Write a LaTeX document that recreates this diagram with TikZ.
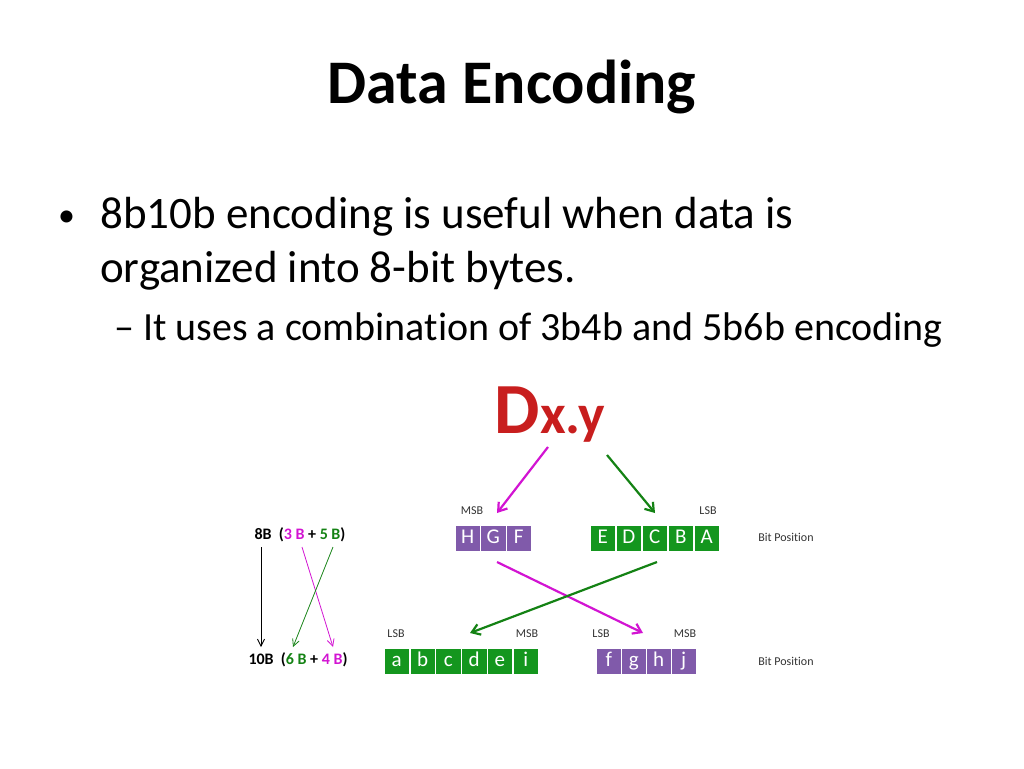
\documentclass[tikz,border=0pt]{standalone}
\usepackage{fontspec}
\setmainfont[RawFeature={-liga}]{Carlito}
\usetikzlibrary{arrows.meta}
\definecolor{pur}{RGB}{128,90,170}
\definecolor{grn}{RGB}{20,150,30}
\definecolor{mag}{RGB}{210,20,210}
\definecolor{dgr}{RGB}{20,130,20}
\definecolor{dred}{RGB}{200,30,30}
\tikzset{
 cell/.style={minimum width=25.5pt,minimum height=26pt,inner sep=0pt,text=white,font=\fontsize{21}{21}\selectfont,text height=14pt,text depth=3pt,draw=white,line width=0.6pt},
 pcell/.style={cell,fill=pur},
 gcell/.style={cell,fill=grn},
 small/.style={font=\fontsize{12}{12}\selectfont,text=black!80},
 marr/.style={mag,line width=2.2pt,-{Straight Barb[length=8pt,width=11pt]}},
 garr/.style={dgr,line width=2.2pt,-{Straight Barb[length=8pt,width=11pt]}},
 thin/.style={line width=0.8pt,-{Straight Barb[length=7pt,width=7pt]}}
}
\begin{document}
\begin{tikzpicture}[x=1pt,y=-1pt]
\useasboundingbox (0,0) rectangle (1024,768);
\node (title) at (512,87) {\fontsize{62}{62}\selectfont\bfseries Data Encoding};
\node[anchor=base west,inner sep=0pt] (b1) at (58,226) {\fontsize{34}{34}\selectfont •};
\node[anchor=base west,inner sep=0pt] (t1) at (100,228) {\fontsize{45}{45}\selectfont 8b10b encoding is useful when data is};
\node[anchor=base west,inner sep=0pt] (t2) at (100,282) {\fontsize{45}{45}\selectfont organized into 8-bit bytes.};
\node[anchor=base west,inner sep=0pt] (t3) at (114,340) {\fontsize{40}{40}\selectfont – It uses a combination of 3b4b and 5b6b encoding};
\node (dxy) at (550,415) {\fontsize{72}{72}\selectfont\bfseries\textcolor{dred}{D}\fontsize{56}{56}\selectfont\textcolor{dred}{x.y}};
\foreach \l [count=\i] in {H,G,F} \node[pcell] (p\i) at (455+12.75+25.5*\i-25.5,538) {\l};
\foreach \l [count=\i] in {E,D,C,B,A} \node[gcell] (g\i) at (590+12.75+26*\i-26,538) {\l};
\foreach \l [count=\i] in {a,b,c,d,e,i} \node[gcell] (h\i) at (384+12.75+25.8*\i-25.8,661) {\l};
\foreach \l [count=\i] in {f,g,h,j} \node[pcell] (q\i) at (596+12.75+25*\i-25,661) {\l};
\node[small] (m1) at (472,511) {MSB};
\node[small] (l1) at (708,511) {LSB};
\node[small] (l2) at (396,634) {LSB};
\node[small] (m2) at (527,634) {MSB};
\node[small] (l3) at (601,634) {LSB};
\node[small] (m3) at (685,634) {MSB};
\node[small] (bp1) at (786,537) {Bit Position};
\node[small] (bp2) at (786,661) {Bit Position};
\coordinate (s1) at (548,447); \coordinate (e1) at (497,513);
\coordinate (s2) at (607,455); \coordinate (e2) at (655,513);
\draw[marr] (s1) -- (e1);
\draw[garr] (s2) -- (e2);
\coordinate (s3) at (497,562); \coordinate (e3) at (643,633);
\coordinate (s4) at (657,562); \coordinate (e4) at (470,633);
\draw[marr] (s3) -- (e3);
\draw[garr] (s4) -- (e4);
\node (k8) at (300,535) {\fontsize{16}{16}\selectfont\bfseries 8B\ \ (\textcolor{mag}{3 B}\ + \textcolor{dgr}{5 B})};
\node (k10) at (298,660) {\fontsize{16}{16}\selectfont\bfseries 10B\ \ (\textcolor{dgr}{6 B}\ + \textcolor{mag}{4 B})};
\coordinate (a1) at (261,547); \coordinate (a2) at (261,647);
\coordinate (c1) at (302,547); \coordinate (c2) at (333,647);
\coordinate (d1) at (333,547); \coordinate (d2) at (293,647);
\draw[thin,black] (a1) -- (a2);
\draw[thin,mag] (c1) -- (c2);
\draw[thin,dgr] (d1) -- (d2);
\end{tikzpicture}
\end{document}
